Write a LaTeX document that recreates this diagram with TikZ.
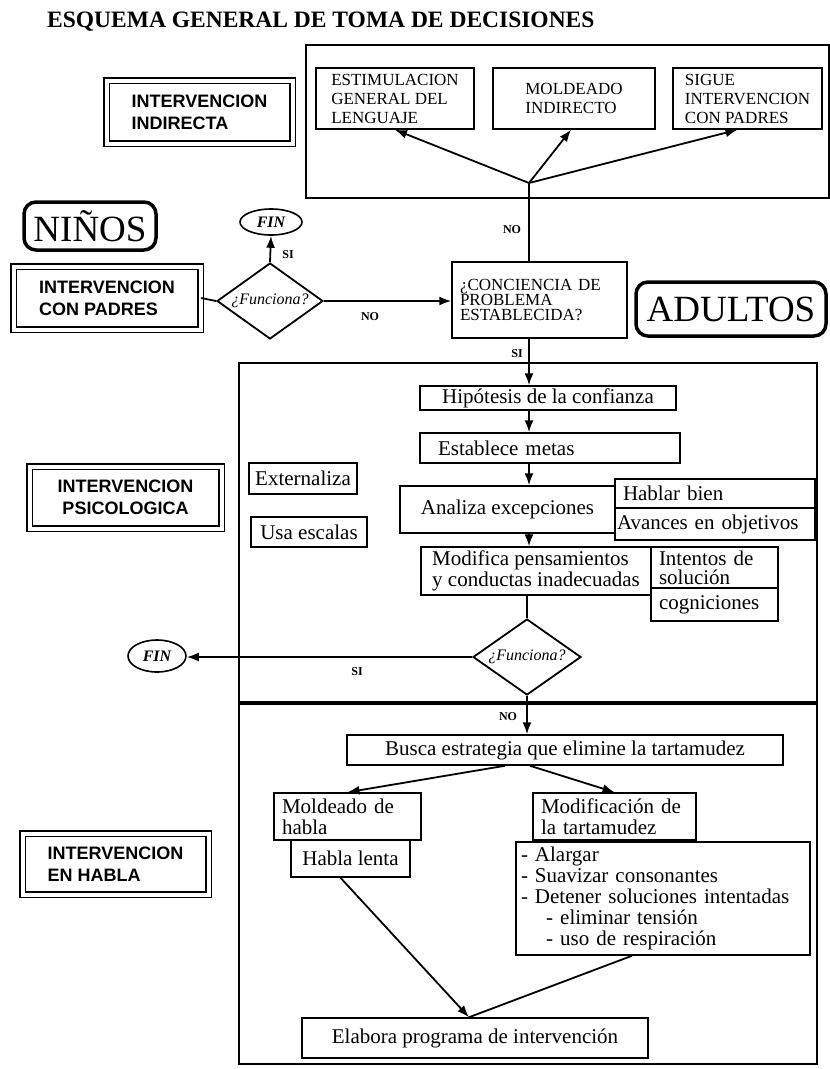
\documentclass[tikz,border=0pt]{standalone}
\usepackage{fontspec}
\setmainfont{Liberation Serif}
\setsansfont{Liberation Sans}
\usepackage{tikz}
\usetikzlibrary{shapes.geometric,arrows.meta,positioning,calc}

\begin{document}
\begin{tikzpicture}[
    x=1pt, y=-1pt,
    >={Latex[length=12pt,width=9pt]},
    every node/.style={inner xsep=8pt, inner ysep=0pt},
    box/.style={rectangle, draw, line width=1.5pt, align=left, font=\fontsize{21}{21}\selectfont},
    capbox/.style={rectangle, draw, line width=1.5pt, align=left, font=\fontsize{17}{19}\selectfont},
    dbox/.style={rectangle, draw, double, double distance=4pt, line width=1.3pt, align=left, font=\sffamily\bfseries\fontsize{18}{22}\selectfont},
    zone/.style={rectangle, draw, line width=2pt},
    tag/.style={rectangle, draw, rounded corners=12pt, line width=3.5pt, inner sep=0pt, font=\fontsize{37}{37}\selectfont},
    decision/.style={diamond, draw, aspect=1.4, line width=1.8pt, inner sep=0pt, font=\itshape\fontsize{16}{16}\selectfont},
    fin/.style={ellipse, draw, line width=1.6pt, inner sep=0pt, font=\bfseries\itshape\fontsize{16}{16}\selectfont},
    lbl/.style={inner sep=0pt, font=\bfseries\fontsize{12}{12}\selectfont},
    link/.style={line width=1.8pt}
]
    \useasboundingbox (0,0) rectangle (830,1069);

    % Title
    \node[anchor=west, inner sep=0pt, font=\bfseries\fontsize{23.5}{24}\selectfont] (title) at (47,22) {ESQUEMA GENERAL DE TOMA DE DECISIONES};

    % Indirect intervention
    \node[zone, minimum width=523, minimum height=153] (indir) at (567.5,121.5) {};
    \node[capbox, minimum width=158, minimum height=61] (estim) at (395,98.5) {ESTIMULACION\\GENERAL DEL\\LENGUAJE};
    \node[capbox, minimum width=162, minimum height=61] (moldind) at (574,98.5) {MOLDEADO\\INDIRECTO};
    \node[capbox, minimum width=149, minimum height=61, inner xsep=4pt] (sigue) at (747.5,98.5) {SIGUE\\INTERVENCION\\CON PADRES};
    \node[dbox, minimum width=186, minimum height=63] (indirecta) at (199.5,112) {INTERVENCION\\INDIRECTA};
    \coordinate (split) at (529,183);

    % Children / adults
    \node[tag, minimum width=132, minimum height=48] (ninos) at (90,226) {NIÑOS};
    \node[tag, minimum width=190, minimum height=54] (adultos) at (731,309) {ADULTOS};
    \node[fin, minimum width=62, minimum height=26] (fin1) at (271,222) {FIN};
    \node[decision, minimum width=106, minimum height=76] (func1) at (270,301) {¿Funciona?};
    \node[dbox, minimum width=187, minimum height=63] (padres) at (107,298) {INTERVENCION\\CON PADRES};
    \node[capbox, minimum width=175, minimum height=76, text width=159, font=\fontsize{17}{15}\selectfont] (conc) at (539.5,300) {¿CONCIENCIA DE\\PROBLEMA\\ESTABLECIDA?};

    % Psychological intervention
    \node[zone, minimum width=578, minimum height=339] (psico) at (528,532.5) {};
    \node[dbox, align=center, minimum width=192, minimum height=62] (psicol) at (125.5,497.5) {INTERVENCION\\PSICOLOGICA};
    \node[box, minimum width=256, minimum height=24] (hipo) at (548,398) {Hipótesis de la confianza};
    \node[box, minimum width=260, minimum height=30, inner xsep=18pt, text width=224] (metas) at (550,448) {Establece metas};
    \node[box, minimum width=215, minimum height=47] (analiza) at (507.5,509.5) {Analiza excepciones};
    \node[box, minimum width=200, minimum height=29, text width=184] (hablar) at (715,493.5) {Hablar bien};
    \node[box, minimum width=200, minimum height=32, inner xsep=2pt, text width=196] (avances) at (715,524) {Avances en objetivos};
    \node[box, minimum width=230, minimum height=48] (modif) at (536,571) {Modifica pensamientos\\y conductas inadecuadas};
    \node[box, minimum width=127, minimum height=41, text width=111, font=\fontsize{21}{19}\selectfont] (intentos) at (714.5,567.5) {Intentos de\\solución};
    \node[box, minimum width=127, minimum height=33, text width=111] (cognic) at (714.5,604.5) {cogniciones};
    \node[box, minimum width=108, minimum height=31, inner xsep=2pt] (extern) at (303,478.5) {Externaliza};
    \node[box, minimum width=116, minimum height=30] (escalas) at (309,532) {Usa escalas};
    \node[decision, minimum width=108, minimum height=76] (func2) at (527,657) {¿Funciona?};
    \node[fin, minimum width=58, minimum height=32] (fin2) at (157,656) {FIN};

    % Speech intervention
    \node[zone, minimum width=578, minimum height=362] (habla) at (528,883) {};
    \draw[line width=3.5pt] (psico.south west) -- (psico.south east);
    \node[dbox, minimum width=186, minimum height=61] (hablab) at (115.5,864) {INTERVENCION\\EN HABLA};
    \node[box, minimum width=436, minimum height=30] (busca) at (565,750) {Busca estrategia que elimine la tartamudez};
    \node[box, minimum width=147, minimum height=47, text width=131] (moldhab) at (347.5,816.5) {Moldeado de\\habla};
    \node[box, minimum width=119, minimum height=37] (lenta) at (350.5,858.5) {Habla lenta};
    \node[box, minimum width=163, minimum height=47, text width=147] (modtart) at (614.5,816.5) {Modificación de\\la tartamudez};
    \node[box, minimum width=294, minimum height=113, inner xsep=5pt, text width=284] (pasos) at (663,898.5) {- Alargar\\- Suavizar consonantes\\- Detener soluciones intentadas\\\hspace*{1.2em}- eliminar tensión\\\hspace*{1.2em}- uso de respiración};
    \node[box, minimum width=346, minimum height=40] (elabora) at (475,1038) {Elabora programa de intervención};
    \coordinate (join) at ([xshift=-6]elabora.north);

    % Connections
    \draw[link,->] (split) -- (estim.south);
    \draw[link,->] (split) -- ([xshift=-3]moldind.south);
    \draw[link,->] (split) -- ([xshift=-10]sigue.south);
    \draw[link] (split) -- (split |- conc.north);
    \node[lbl] (no1) at (512,230) {NO};

    \draw[link] (padres.east) -- (func1.west);
    \draw[link,->] (func1.north) -- (fin1.south);
    \node[lbl] (si1) at (288,255) {SI};
    \draw[link,->] (func1.east) -- (func1.east -| conc.west);
    \node[lbl] (no2) at (370,317) {NO};

    \draw[link,->] (split |- conc.south) -- (split |- hipo.north);
    \node[lbl] (si2) at (517,354) {SI};
    \draw[link,->] (split |- hipo.south) -- (split |- metas.north);
    \draw[link,->] (split |- metas.south) -- (split |- analiza.north);
    \draw[link,->] (split |- analiza.south) -- (split |- modif.north);
    \draw[link] (func2.north |- modif.south) -- (func2.north);
    \draw[link,->] (func2.west) -- (func2.west -| fin2.east);
    \node[lbl] (si3) at (357,672) {SI};
    \draw[link,->] (func2.south) -- (func2.south |- busca.north);
    \node[lbl] (no3) at (508,717) {NO};

    \draw[link,->] ([xshift=-60]busca.south) -- (moldhab.north);
    \draw[link,->] ([xshift=-35]busca.south) -- (modtart.north);
    \draw[link] ([xshift=-31]pasos.south) -- (join);
    \draw[link,->] ([xshift=-10]lenta.south) -- (join);
\end{tikzpicture}
\end{document}
